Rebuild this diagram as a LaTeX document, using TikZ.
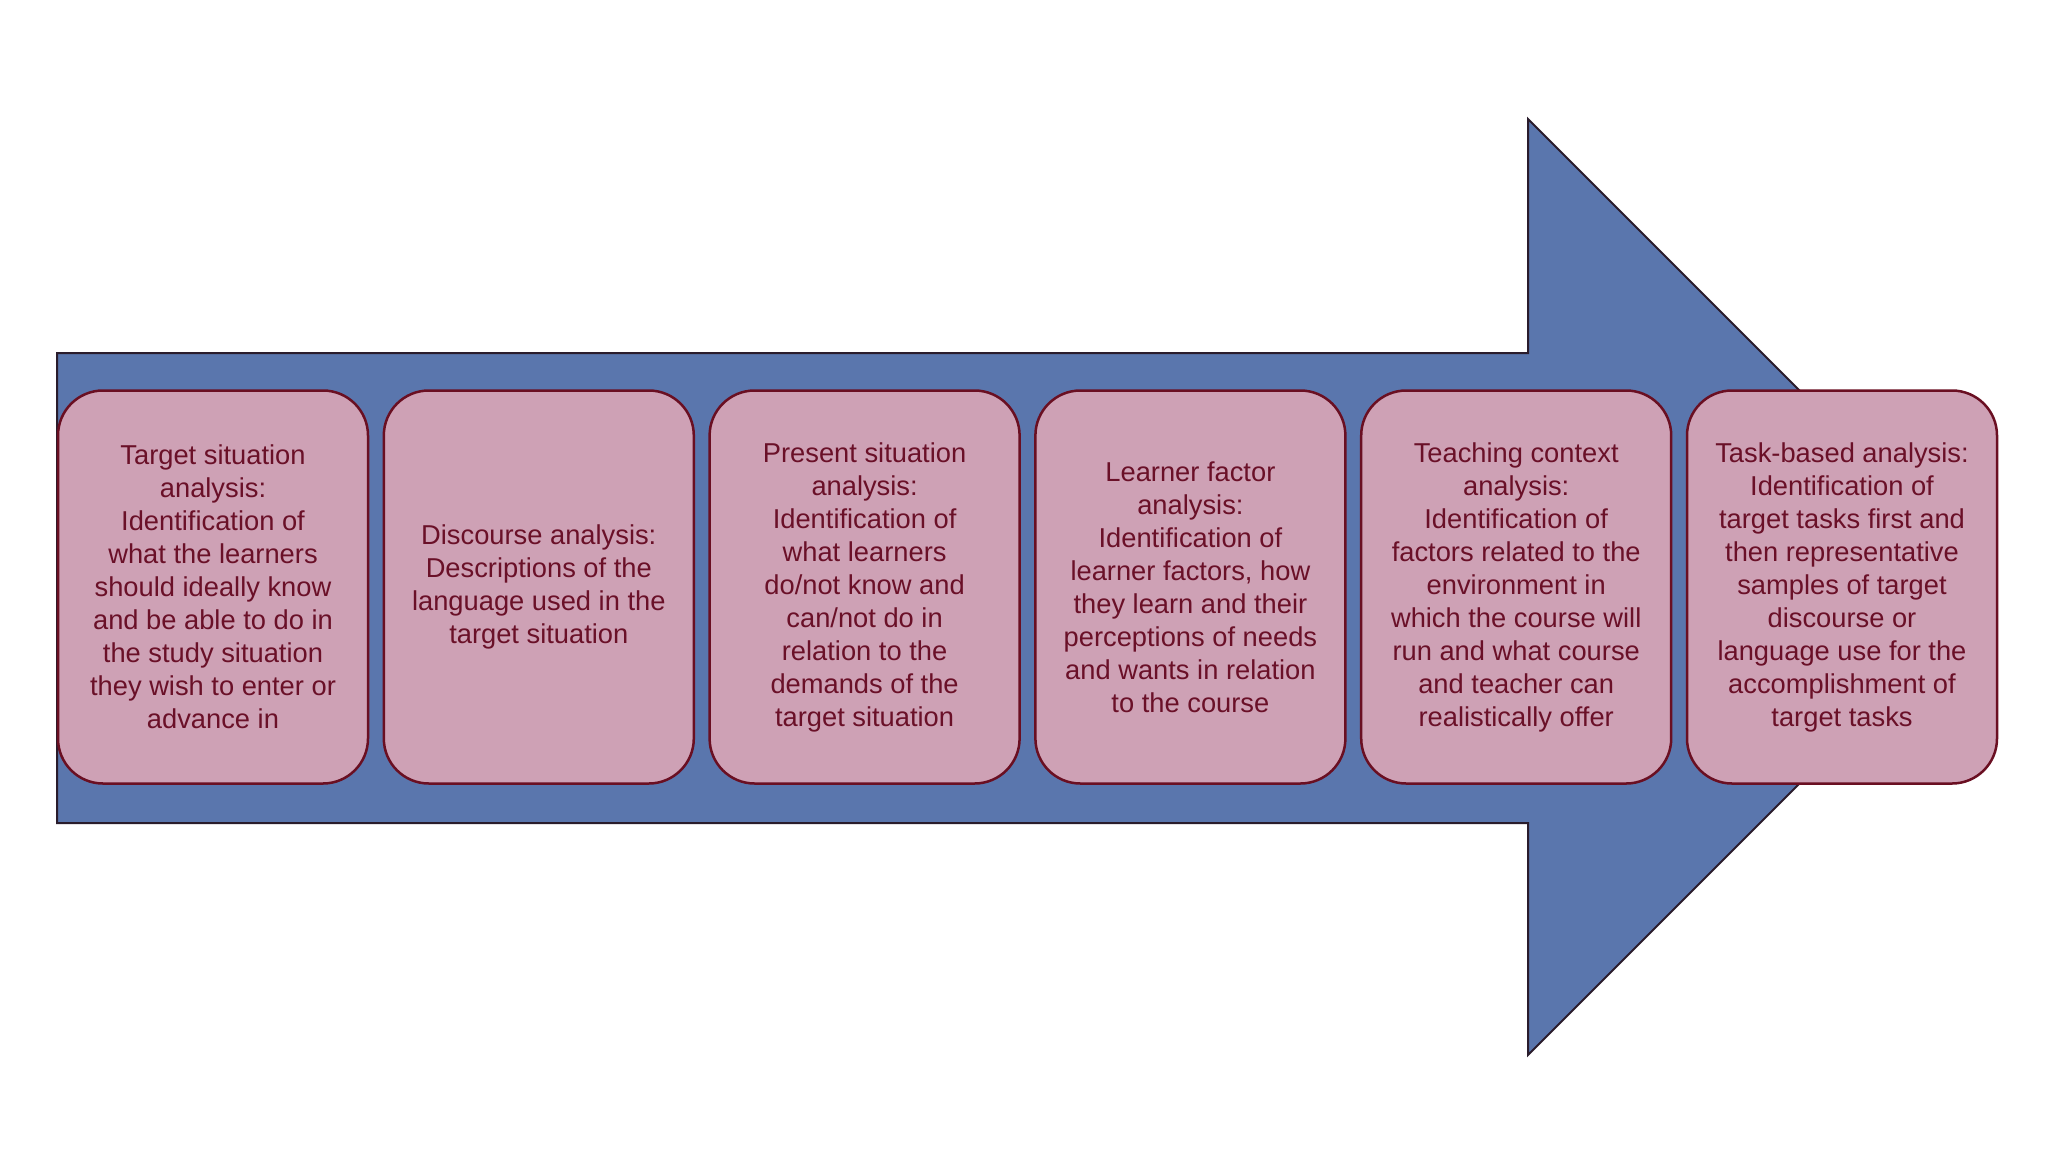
\documentclass[tikz,border=0pt]{standalone}
\usepackage{fontspec}
\setmainfont{Liberation Sans}
\definecolor{arrowblue}{HTML}{5A76AD}
\definecolor{arrowline}{HTML}{2A1C2C}
\definecolor{boxfill}{HTML}{CEA1B5}
\definecolor{boxline}{HTML}{6A0F22}
\definecolor{boxtext}{HTML}{6A1028}
\tikzset{
  arrowshape/.style={fill=arrowblue, draw=arrowline, line width=2pt, line join=miter},
  stepbox/.style={rectangle, rounded corners=45pt, fill=boxfill, draw=boxline, line width=2.5pt,
    minimum width=310pt, minimum height=393pt, inner sep=0pt, align=center, text=boxtext,
    font=\fontsize{27.3}{33}\selectfont},
}
\begin{document}
\begin{tikzpicture}[x=1pt,y=-1pt]
\useasboundingbox[fill=white] (0,0) rectangle (2048,1152);
\draw[arrowshape] (57,353) -- (1528,353) -- (1528,119) -- (1996,587) -- (1528,1055) -- (1528,823) -- (57,823) -- cycle;
\node[stepbox] (b1) at (213,587) {Target situation\\analysis:\\Identification of\\what the learners\\should ideally know\\and be able to do in\\the study situation\\they wish to enter or\\advance in};
\node[stepbox] (b2) at (538.8,587) {Discourse analysis:\\Descriptions of the\\language used in the\\target situation};
\node[stepbox] (b3) at (864.6,587) {Present situation\\analysis:\\Identification of\\what learners\\do/not know and\\can/not do in\\relation to the\\demands of the\\target situation};
\node[stepbox] (b4) at (1190.4,587) {Learner factor\\analysis:\\Identification of\\learner factors, how\\they learn and their\\perceptions of needs\\and wants in relation\\to the course};
\node[stepbox] (b5) at (1516.2,587) {Teaching context\\analysis:\\Identification of\\factors related to the\\environment in\\which the course will\\run and what course\\and teacher can\\realistically offer};
\node[stepbox] (b6) at (1842,587) {Task-based analysis:\\Identification of\\target tasks first and\\then representative\\samples of target\\discourse or\\language use for the\\accomplishment of\\target tasks};
\end{tikzpicture}
\end{document}
